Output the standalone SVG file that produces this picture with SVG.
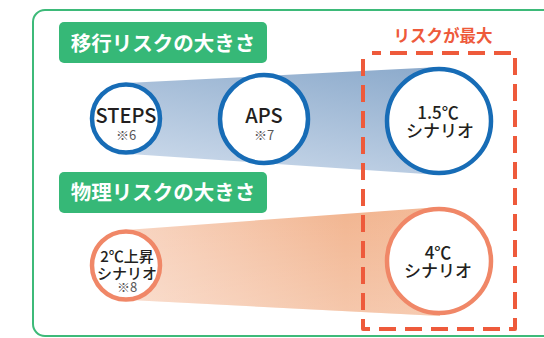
<svg xmlns="http://www.w3.org/2000/svg" width="544" height="338" viewBox="0 0 544 338">
<style>
.hdr{fill:#36b877}
.hdrt{fill:#fff;font-family:"Noto Sans CJK JP","Noto Sans",sans-serif;font-weight:700;font-size:20.5px;text-anchor:middle}
.cb{fill:#fff;stroke:#176cb6;stroke-width:4.5}
.co{fill:#fff;stroke:#f08767;stroke-width:4.5}
.t{fill:#231f20;font-family:"Noto Sans CJK JP","Noto Sans",sans-serif;font-weight:500;text-anchor:middle}
.n{fill:#595757;font-family:"Noto Sans CJK JP","Noto Sans",sans-serif;font-weight:400;text-anchor:middle;font-size:13px}
</style>
<defs>
<linearGradient id="gb" x1="0.9" y1="0" x2="0.35" y2="1">
<stop offset="0" stop-color="#8dabcc"/>
<stop offset="1" stop-color="#c8d7e9"/>
</linearGradient>
<linearGradient id="go" x1="0" y1="0" x2="1" y2="0">
<stop offset="0" stop-color="#f8d4c0"/>
<stop offset="0.7" stop-color="#f2b590"/>
<stop offset="1" stop-color="#f3ba98"/>
</linearGradient>
<linearGradient id="gw" x1="0" y1="0" x2="0" y2="1">
<stop offset="0" stop-color="#fff" stop-opacity="0"/>
<stop offset="1" stop-color="#fff" stop-opacity="0.25"/>
</linearGradient>
</defs>
<rect id="frame" x="33" y="10" width="540" height="326" rx="12" fill="none" stroke="#3dba79" stroke-width="2"/>
<g id="connectors">
<polygon points="126,83 440,67 440,175 130,154" fill="url(#gb)"/>
<polygon points="126,230 440,207 440,316 130,300" fill="url(#go)"/>
<polygon points="126,230 440,207 440,316 130,300" fill="url(#gw)"/>
</g>
<g id="max-box">
<path d="M363,59 V329 H515 V53 H372" fill="none" stroke="#ee5a3b" stroke-width="4" stroke-dasharray="17 9" stroke-linejoin="round"/>
<text x="443" y="42" fill="#ee5a3b" font-family="Noto Sans CJK JP,Noto Sans,sans-serif" font-weight="700" font-size="16.5" text-anchor="middle">リスクが最大</text>
</g>
<g id="label-transition">
<rect class="hdr" x="59" y="22" width="208" height="41" rx="5"/>
<text class="hdrt" x="163" y="51">移行リスクの大きさ</text>
</g>
<g id="label-physical">
<rect class="hdr" x="59" y="172" width="208" height="41" rx="5"/>
<text class="hdrt" x="163" y="200">物理リスクの大きさ</text>
</g>
<g id="steps">
<circle class="cb" cx="126" cy="118.5" r="34"/>
<text class="t" x="126" y="123" font-size="20">STEPS</text>
<text class="n" x="126" y="140">※6</text>
</g>
<g id="aps">
<circle class="cb" cx="264" cy="119" r="44"/>
<text class="t" x="264" y="123" font-size="20">APS</text>
<text class="n" x="264" y="140">※7</text>
</g>
<g id="c15">
<circle class="cb" cx="439" cy="121" r="52"/>
<text class="t" x="438" y="119" font-size="17">1.5℃</text>
<text class="t" x="440" y="137" font-size="17">シナリオ</text>
</g>
<g id="c2">
<circle class="co" cx="126" cy="265.5" r="34"/>
<text class="t" x="127" y="262" font-size="15">2℃上昇</text>
<text class="t" x="127" y="279" font-size="15">シナリオ</text>
<text class="n" x="127" y="292">※8</text>
</g>
<g id="c4">
<circle class="co" cx="439" cy="261" r="52"/>
<text class="t" x="438" y="259" font-size="17">4℃</text>
<text class="t" x="438" y="277" font-size="17">シナリオ</text>
</g>
</svg>
